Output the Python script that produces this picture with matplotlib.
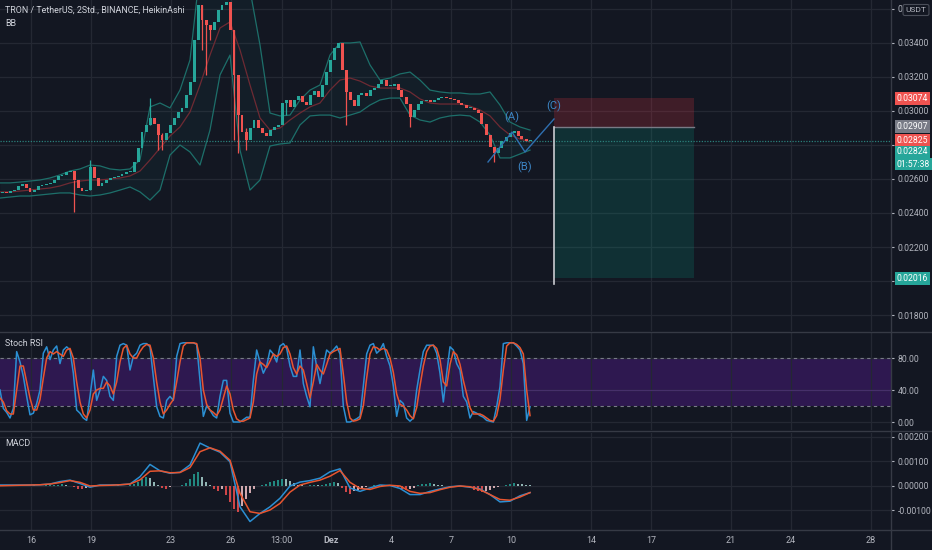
import numpy as np
import matplotlib
matplotlib.use("Agg")
import matplotlib.pyplot as plt
from matplotlib import font_manager
from matplotlib.patches import Rectangle

#---------DATA----------
# heikin ashi closes (4.8h steps from 14 Nov 13:00)
closes = [
    0.02524, 0.02518, 0.02529, 0.02535, 0.02559, 0.02571, 0.02547, 0.02524, 0.02535, 0.02559,
    0.02565, 0.02571, 0.02577, 0.02594, 0.02618, 0.02624, 0.02641, 0.02647, 0.02594, 0.02547,
    0.02529, 0.02535, 0.02671, 0.02606, 0.02559, 0.02577, 0.02594, 0.02606, 0.02612, 0.02618,
    0.02629, 0.02641, 0.02641, 0.02700, 0.02782, 0.02876, 0.02918, 0.02959, 0.02924, 0.02859,
    0.02829, 0.02871, 0.02918, 0.02959, 0.02994, 0.03018, 0.03094, 0.03170, 0.03418, 0.03624,
    0.03535, 0.03506, 0.03476, 0.03524, 0.03594, 0.03624, 0.03641, 0.03476, 0.03212, 0.02976,
    0.02876, 0.02829, 0.02900, 0.02947, 0.02900, 0.02871, 0.02853, 0.02888, 0.02906, 0.02918,
    0.03047, 0.03065, 0.03024, 0.03065, 0.03088, 0.03053, 0.03035, 0.03094, 0.03118, 0.03082,
    0.03153, 0.03229, 0.03300, 0.03371, 0.03400, 0.03241, 0.03112, 0.03065, 0.03029, 0.03094,
    0.03106, 0.03088, 0.03123, 0.03135, 0.03159, 0.03182, 0.03147, 0.03147, 0.03159, 0.03123,
    0.03082, 0.03041, 0.02965, 0.03006, 0.03041, 0.03059, 0.03065, 0.03053, 0.03065, 0.03076,
    0.03082, 0.03076, 0.03071, 0.03065, 0.03047, 0.03035, 0.03018, 0.03018, 0.03006, 0.02988,
    0.02924, 0.02859, 0.02788, 0.02753, 0.02782, 0.02824, 0.02847, 0.02871, 0.02882, 0.02853,
    0.02835, 0.02824, 0.02824]

# long wicks
spike_idx = [18, 22, 37, 39, 40, 50, 51, 52, 58, 59, 61, 71, 86, 102, 123]
spike_lo = [0.02406, 0.02535, 0.02918, 0.02770, 0.02770, 0.03359, 0.03212, 0.03418,
            0.02829, 0.02753, 0.02770, 0.02976, 0.02918, 0.02906, 0.02700]
spike_hi = [0.02594, 0.02712, 0.03076, 0.02924, 0.02871, 0.03624, 0.03535, 0.03506,
            0.03476, 0.03212, 0.02900, 0.03065, 0.03241, 0.03041, 0.02788]

# bollinger bands, half day steps
bb_upper = [
    0.02577, 0.02577, 0.02582, 0.02588, 0.02594, 0.02606, 0.02624, 0.02647, 0.02659, 0.02682,
    0.02677, 0.02659, 0.02653, 0.02659, 0.02712, 0.03024, 0.03047, 0.03018, 0.03123, 0.03300,
    0.03829, 0.04006, 0.04124, 0.04124, 0.04006, 0.03712, 0.03388, 0.02988, 0.02971, 0.02976,
    0.03065, 0.03123, 0.03153, 0.03329, 0.03400, 0.03400, 0.03406, 0.03271, 0.03182, 0.03194,
    0.03218, 0.03229, 0.03182, 0.03123, 0.03112, 0.03106, 0.03106, 0.03100, 0.03100, 0.03112,
    0.03035, 0.02935, 0.02906, 0.02888]
bb_mid = [
    0.02524, 0.02524, 0.02529, 0.02535, 0.02541, 0.02547, 0.02559, 0.02577, 0.02588, 0.02594,
    0.02594, 0.02600, 0.02606, 0.02618, 0.02647, 0.02712, 0.02782, 0.02853, 0.02906, 0.02994,
    0.03153, 0.03329, 0.03488, 0.03524, 0.03359, 0.03153, 0.02959, 0.02888, 0.02900, 0.02947,
    0.02988, 0.03024, 0.03047, 0.03123, 0.03182, 0.03194, 0.03176, 0.03147, 0.03135, 0.03135,
    0.03135, 0.03112, 0.03071, 0.03047, 0.03041, 0.03041, 0.03041, 0.03029, 0.03006, 0.02971,
    0.02906, 0.02859, 0.02835, 0.02818]
bb_lower = [
    0.02488, 0.02494, 0.02500, 0.02500, 0.02506, 0.02512, 0.02518, 0.02518, 0.02506, 0.02500,
    0.02506, 0.02518, 0.02535, 0.02553, 0.02524, 0.02476, 0.02535, 0.02741, 0.02800, 0.02759,
    0.02682, 0.02888, 0.03212, 0.03329, 0.02770, 0.02535, 0.02594, 0.02794, 0.02806, 0.02812,
    0.02918, 0.02971, 0.02976, 0.02976, 0.02959, 0.02976, 0.02994, 0.03035, 0.03065, 0.03076,
    0.03076, 0.02976, 0.02947, 0.02935, 0.02959, 0.02971, 0.02976, 0.02971, 0.02935, 0.02859,
    0.02724, 0.02724, 0.02747, 0.02770]

# stoch rsi, 4h steps
stoch_k = [
    40, 17, 12, 5, 17, 88, 75, 57, 32, 9,
    11, 23, 40, 86, 94, 78, 90, 95, 73, 90,
    94, 90, 61, 15, 11, 5, 2, 32, 65, 27,
    40, 57, 52, 32, 27, 82, 96, 98, 96, 65,
    82, 86, 96, 98, 98, 94, 57, 19, 7, 5,
    27, 32, 27, 82, 98, 99, 99, 99, 99, 97,
    52, 7, 20, 15, 8, 5, 32, 52, 52, 11,
    0, 0, 0, 3, 6, 6, 52, 90, 75, 61,
    70, 90, 85, 75, 95, 98, 92, 70, 57, 57,
    90, 48, 32, 19, 94, 69, 48, 70, 90, 86,
    90, 95, 85, 20, 0, 0, 2, 4, 7, 45,
    85, 96, 98, 86, 90, 98, 82, 70, 45, 7,
    27, 23, 5, 1, 5, 40, 65, 88, 96, 96,
    96, 86, 61, 25, 61, 94, 90, 73, 65, 32,
    25, 5, 13, 11, 8, 6, 2, 1, 0, 19,
    44, 98, 99, 99, 99, 95, 90, 73, 2, 19]
stoch_d = [
    30, 25, 14, 10, 10, 40, 70, 70, 50, 30,
    15, 15, 28, 55, 80, 88, 85, 88, 85, 82,
    90, 92, 80, 50, 25, 10, 5, 15, 35, 40,
    42, 42, 50, 45, 35, 50, 75, 92, 96, 85,
    80, 80, 88, 94, 97, 96, 80, 50, 25, 10,
    15, 22, 28, 50, 75, 95, 99, 99, 99, 98,
    80, 40, 22, 15, 12, 8, 15, 30, 45, 35,
    15, 4, 1, 1, 3, 5, 25, 60, 75, 72,
    68, 76, 85, 82, 85, 93, 95, 85, 68, 60,
    70, 65, 48, 30, 50, 72, 65, 60, 72, 85,
    88, 90, 92, 60, 25, 5, 1, 2, 4, 20,
    55, 85, 94, 93, 90, 92, 90, 80, 62, 35,
    22, 20, 15, 8, 4, 18, 45, 70, 88, 95,
    96, 92, 78, 50, 45, 72, 88, 84, 72, 52,
    35, 18, 10, 10, 10, 8, 5, 2, 1, 8,
    28, 65, 95, 99, 99, 97, 93, 85, 40, 8]

# macd, half day steps
macd_line = [
    0.00004, 0.00004, 0.00004, 0.00004, 0.00005, 0.00008, 0.00018, 0.00024, 0.00010, -0.00005,
    0.00004, 0.00004, 0.00005, 0.00008, 0.00038, 0.00088, 0.00062, 0.00052, 0.00056, 0.00086,
    0.00175, 0.00155, 0.00138, 0.00099, -0.00085, -0.00145, -0.00112, -0.00085, -0.00050, 0.00000,
    0.00016, 0.00022, 0.00032, 0.00058, 0.00070, -0.00008, -0.00022, -0.00008, 0.00004, 0.00002,
    -0.00010, -0.00035, -0.00035, -0.00022, -0.00012, -0.00003, 0.00000, -0.00005, -0.00012, -0.00035,
    -0.00065, -0.00062, -0.00040, -0.00027]
macd_signal = [
    0.00001, 0.00002, 0.00003, 0.00004, 0.00005, 0.00008, 0.00014, 0.00022, 0.00015, 0.00000,
    0.00002, 0.00003, 0.00005, 0.00008, 0.00025, 0.00060, 0.00062, 0.00054, 0.00055, 0.00075,
    0.00140, 0.00156, 0.00142, 0.00105, -0.00030, -0.00105, -0.00112, -0.00098, -0.00071, -0.00025,
    0.00004, 0.00015, 0.00024, 0.00040, 0.00063, 0.00015, -0.00010, -0.00014, -0.00002, 0.00003,
    0.00000, -0.00022, -0.00030, -0.00027, -0.00015, -0.00005, 0.00000, -0.00003, -0.00015, -0.00035,
    -0.00055, -0.00058, -0.00045, -0.00027]
# histogram, same steps as the candles
macd_hist = [
    0.00001, 0.00001, 0.00002, 0.00001, 0.00000, 0.00001, 0.00002, 0.00002, 0.00003, 0.00002,
    0.00002, 0.00003, 0.00003, 0.00005, 0.00006, 0.00007, 0.00005, 0.00002, -0.00006, -0.00012,
    -0.00014, -0.00008, -0.00002, 0.00001, 0.00002, 0.00000, 0.00001, 0.00002, 0.00002, 0.00003,
    0.00002, 0.00002, 0.00003, 0.00008, 0.00018, 0.00030, 0.00038, 0.00032, 0.00018, 0.00004,
    -0.00010, -0.00014, -0.00006, -0.00002, 0.00002, 0.00006, 0.00012, 0.00030, 0.00050, 0.00058,
    0.00036, 0.00016, 0.00004, -0.00012, -0.00022, -0.00012, -0.00035, -0.00065, -0.00095, -0.00105,
    -0.00080, -0.00055, -0.00030, -0.00012, -0.00002, 0.00005, 0.00010, 0.00015, 0.00020, 0.00026,
    0.00030, 0.00027, 0.00020, 0.00012, 0.00006, 0.00003, 0.00002, 0.00004, 0.00005, 0.00004,
    0.00005, 0.00010, 0.00014, 0.00018, 0.00012, -0.00010, -0.00025, -0.00032, -0.00022, -0.00015,
    -0.00008, -0.00003, 0.00002, 0.00003, 0.00005, 0.00004, 0.00003, 0.00004, 0.00002, -0.00005,
    -0.00012, -0.00018, -0.00014, -0.00008, 0.00004, 0.00008, 0.00010, 0.00011, 0.00009, 0.00006,
    0.00003, 0.00002, 0.00001, 0.00002, 0.00001, 0.00000, -0.00005, -0.00010, -0.00015, -0.00020,
    -0.00023, -0.00020, -0.00016, -0.00010, -0.00005, -0.00002, 0.00004, 0.00008, 0.00012, 0.00010,
    0.00008, 0.00005, 0.00003]

# x axis (day of november, december continues at 31)
day_ticks = [16, 19, 23, 26, 28.54, 31, 34, 37, 40, 44, 47, 51, 54, 58]
day_labels = ["16", "19", "23", "26", "13:00", "Dez", "4", "7", "10", "14", "17", "21", "24", "28"]

price_ticks = [0.018, 0.020, 0.022, 0.024, 0.026, 0.028, 0.030, 0.032, 0.034, 0.036]
# 0.020 / 0.028 sit under the price tags, 0.036 under the currency box
price_labels = ["0.01800", "", "0.02200", "0.02400", "0.02600", "", "0.03000", "0.03200", "0.03400", "0"]

# elliott wave
wave_day = [38.85, 40.05, 40.70, 42.15]
wave_price = [0.02700, 0.02876, 0.02759, 0.02953]
wave_names = ["(A)", "(B)", "(C)"]
wave_label_price = [0.02965, 0.02671, 0.03029]

# short position tool
pos_start, pos_end = 42.15, 49.15
pos_entry, pos_stop, pos_target = 0.02907, 0.03074, 0.02016

last_price = 0.02825

#---------STYLE----------
BG = "#131722"
GRID = "#242833"
SEP = "#363a45"
TXT = "#b2b5be"
UP = "#26a69a"
DOWN = "#ef5350"

installed = set(f.name for f in font_manager.fontManager.ttflist)
family = [f for f in ["Liberation Sans Narrow", "Roboto", "DejaVu Sans"] if f in installed]
plt.rcParams["font.family"] = family

W, H = 932.0, 550.0
fig = plt.figure(figsize=(9.32, 5.5), dpi=100, facecolor=BG)

right = 891 / W
ax = fig.add_axes([0, 1 - 331 / H, right, 331 / H])
ax_rsi = fig.add_axes([0, 1 - 430 / H, right, 97 / H], sharex=ax)
ax_macd = fig.add_axes([0, 1 - 530 / H, right, 97 / H], sharex=ax)

for a in (ax, ax_rsi, ax_macd):
    a.set_facecolor(BG)
    for s in a.spines.values():
        s.set_visible(False)
    a.grid(True, color=GRID, lw=0.9)
    a.set_axisbelow(True)
    a.yaxis.tick_right()
    a.tick_params(axis="y", colors=TXT, labelsize=6.2, length=2.5, width=0.8, pad=2.5)
    a.tick_params(axis="x", length=0)
    a.set_xticks(day_ticks)

ax.set_xlim(14.45, 59.0)
plt.setp(ax.get_xticklabels(), visible=False)
plt.setp(ax_rsi.get_xticklabels(), visible=False)
ax_macd.set_xticklabels(day_labels)
ax_macd.tick_params(axis="x", colors=TXT, labelsize=6.5, pad=4)
for lab in ax_macd.get_xticklabels():
    if lab.get_text() == "Dez":
        lab.set_fontweight("bold")

#---------PRICE PANE----------
ax.set_ylim(0.017059, 0.036529)
ax.set_yticks(price_ticks)
ax.set_yticklabels(price_labels)

candle_day = 14.55 + 0.2 * np.arange(len(closes))
bb_day = 14.45 + 0.5 * np.arange(len(bb_mid))

ax.fill_between(bb_day, bb_lower, bb_upper, color=UP, alpha=0.05, lw=0)
ax.plot(bb_day, bb_upper, color="#1d6f6a", lw=0.9)
ax.plot(bb_day, bb_lower, color="#1d6f6a", lw=0.9)
ax.plot(bb_day, bb_mid, color="#6e2a33", lw=0.9)

c = np.array(closes)
o = np.concatenate([[c[0] - 0.00004], c[:-1]])
cols = np.where(c >= o, UP, DOWN)
hgt = np.where(np.abs(c - o) < 0.00004, np.sign(c - o + 1e-12) * 0.00004, c - o)
ax.bar(candle_day, hgt, bottom=o, width=0.15, color=cols, lw=0, zorder=3)
ax.vlines(candle_day[spike_idx], spike_lo, spike_hi, colors=cols[spike_idx], lw=0.9, zorder=3)

# position tool
ax.add_patch(Rectangle((pos_start, pos_entry), pos_end - pos_start, pos_stop - pos_entry,
                       fc="#f23645", alpha=0.2, lw=0, zorder=2))
ax.add_patch(Rectangle((pos_start, pos_target), pos_end - pos_start, pos_entry - pos_target,
                       fc="#089981", alpha=0.2, lw=0, zorder=2))
ax.plot([pos_start, pos_end], [pos_entry, pos_entry], color="#787b86", lw=1, zorder=3)
ax.plot([pos_start, pos_start], [pos_entry, 0.01982], color="#c9cbd1", lw=1.2, zorder=3)

ax.axhline(last_price, color="#2a7f7a", lw=0.9, ls=(0, (1, 1.2)), zorder=2)

# wave
ax.plot(wave_day, wave_price, color="#2f6fb0", lw=1, zorder=4)
for d, p, t in zip(wave_day[1:], wave_label_price, wave_names):
    ax.text(d, p, t, color="#3d86c6", fontsize=8, ha="center", va="center", zorder=5)


def price_tag(a, price, text, bg):
    a.annotate(text, xy=(1, price), xycoords=("axes fraction", "data"), xytext=(4.2, 0),
               textcoords="offset points", ha="left", va="center", fontsize=6.2, color="white",
               bbox=dict(boxstyle="square,pad=0.22", fc=bg, ec="none"),
               annotation_clip=False, zorder=10)


price_tag(ax, 0.03074, "0.03074", DOWN)
price_tag(ax, 0.02907, "0.02907", "#787b86")
price_tag(ax, last_price, "0.02825", DOWN)
price_tag(ax, 0.02759, "0.02824", UP)
price_tag(ax, 0.02688, "01:57:38", UP)
price_tag(ax, pos_target, "0.02016", UP)

#---------STOCH RSI----------
rsi_day = 14.45 + np.arange(len(stoch_k)) / 6.0
ax_rsi.set_ylim(-10, 111.25)
ax_rsi.set_yticks([0, 40, 80])
ax_rsi.set_yticklabels(["0.00", "40.00", "80.00"])
ax_rsi.axhspan(20, 80, color="#2e1850", lw=0, zorder=0.3)
ax_rsi.axhline(40, color="#46306a", lw=0.9, zorder=0.6)
for lvl in (20, 80):
    ax_rsi.axhline(lvl, color="#787b86", lw=0.8, ls=(0, (3, 3)))
ax_rsi.plot(rsi_day, stoch_k, color="#2b8fd3", lw=1.1)
ax_rsi.plot(rsi_day, stoch_d, color="#e8552f", lw=1.1)

#---------MACD----------
macd_day = 14.45 + 0.5 * np.arange(len(macd_line))
ax_macd.set_ylim(-0.001796, 0.002163)
mt = [-0.001, 0.0, 0.001, 0.002]
ax_macd.set_yticks(mt)
ax_macd.set_yticklabels(["%.5f" % v for v in mt])

h = np.array(macd_hist)
prev = np.concatenate([[0.0], h[:-1]])
hcol = np.where(h >= 0, np.where(h >= prev, "#26a69a", "#b2dfdb"),
                np.where(h <= prev, "#ff5252", "#ffcdd2"))
ax_macd.bar(candle_day, h, width=0.08, color=hcol, lw=0, alpha=0.8)
ax_macd.plot(macd_day, macd_line, color="#2b8fd3", lw=1.1)
ax_macd.plot(macd_day, macd_signal, color="#e8552f", lw=1.1)

#---------FRAME----------
for y in (332, 431, 530):
    fig.add_artist(plt.Line2D([0, 1], [1 - y / H] * 2, transform=fig.transFigure, color=SEP, lw=1))
fig.add_artist(plt.Line2D([right, right], [0, 1], transform=fig.transFigure, color=SEP, lw=1))

fig.text(5 / W, 1 - 10 / H, "TRON / TetherUS, 2Std., BINANCE, HeikinAshi", color="#d1d4dc",
         fontsize=6.4, va="center")
fig.text(5 / W, 1 - 23 / H, "BB", color="#d1d4dc", fontsize=6.4, va="center")
fig.text(5 / W, 1 - 344 / H, "Stoch RSI", color="#d1d4dc", fontsize=6.4, va="center")
fig.text(5 / W, 1 - 443 / H, "MACD", color="#d1d4dc", fontsize=6.4, va="center")
fig.text(916 / W, 1 - 10 / H, "USDT", color=TXT, fontsize=6, ha="center", va="center",
         bbox=dict(boxstyle="round,pad=0.3,rounding_size=0.2", fc=BG, ec="#4a4e59", lw=0.8),
         zorder=20)

fig.savefig("out.png", dpi=100, facecolor=BG)
